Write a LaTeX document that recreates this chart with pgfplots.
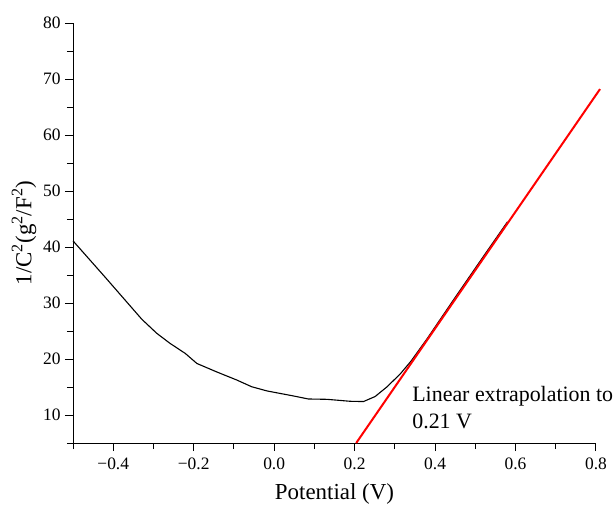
\documentclass[border=0pt]{standalone}
\usepackage{pgfplots}
\pgfplotsset{compat=1.18}
\usepackage{fontspec}
\setmainfont{Liberation Serif}
\begin{document}
\begin{tikzpicture}
\useasboundingbox (-73bp,-69bp) rectangle (543bp,443bp);
\begin{axis}[
  scale only axis,
  width=523bp, height=420bp,
  xmin=-0.5, xmax=0.8, ymin=5, ymax=80,
  axis lines*=left,
  axis line style={line width=1bp},
  clip=false,
  tick align=outside,
  xtick={-0.4,-0.2,0,0.2,0.4,0.6,0.8},
  xticklabels={−0.4,−0.2,0.0,0.2,0.4,0.6,0.8},
  minor xtick={-0.5,-0.3,-0.1,0.1,0.3,0.5,0.7},
  ytick={10,20,30,40,50,60,70,80},
  minor ytick={5,15,25,35,45,55,65,75},
  major tick length=8bp, minor tick length=6bp,
  every tick/.style={black, line width=1bp},
  /pgf/number format/assume math mode=true,
  tick label style={font=\fontsize{17.5}{20}\selectfont},
  xticklabel style={yshift=-3bp},
  yticklabel style={xshift=-1bp},
  xlabel={Potential (V)},
  ylabel={1/C\textsuperscript{2}(g\textsuperscript{2}/F\textsuperscript{2})},
  label style={font=\fontsize{23}{27}\selectfont},
  xlabel style={yshift=-7bp},
  ylabel style={yshift=0bp},
]
\addplot[black, line width=1.1bp] coordinates {
(-0.5,41.1) (-0.42,34.6) (-0.329,27.1)
(-0.292,24.6) (-0.259,22.8) (-0.221,21.0) (-0.192,19.2) (-0.143,17.7)
(-0.093,16.25) (-0.056,15.05) (-0.018,14.3) (0.048,13.4) (0.085,12.86)
(0.131,12.8) (0.189,12.45) (0.222,12.4) (0.251,13.3) (0.280,15.0)
(0.313,17.3) (0.340,19.6) (0.380,23.6) (0.45,31.0) (0.52,38.3) (0.58,44.5)
};
\addplot[red, line width=2bp] coordinates {(0.204,5) (0.81,68.2)};
\node[anchor=west, align=left, font=\fontsize{22}{27}\selectfont, inner sep=0pt]
  at (axis cs:0.343,11.3) {Linear extrapolation to\\0.21 V};
\end{axis}
\end{tikzpicture}
\end{document}
